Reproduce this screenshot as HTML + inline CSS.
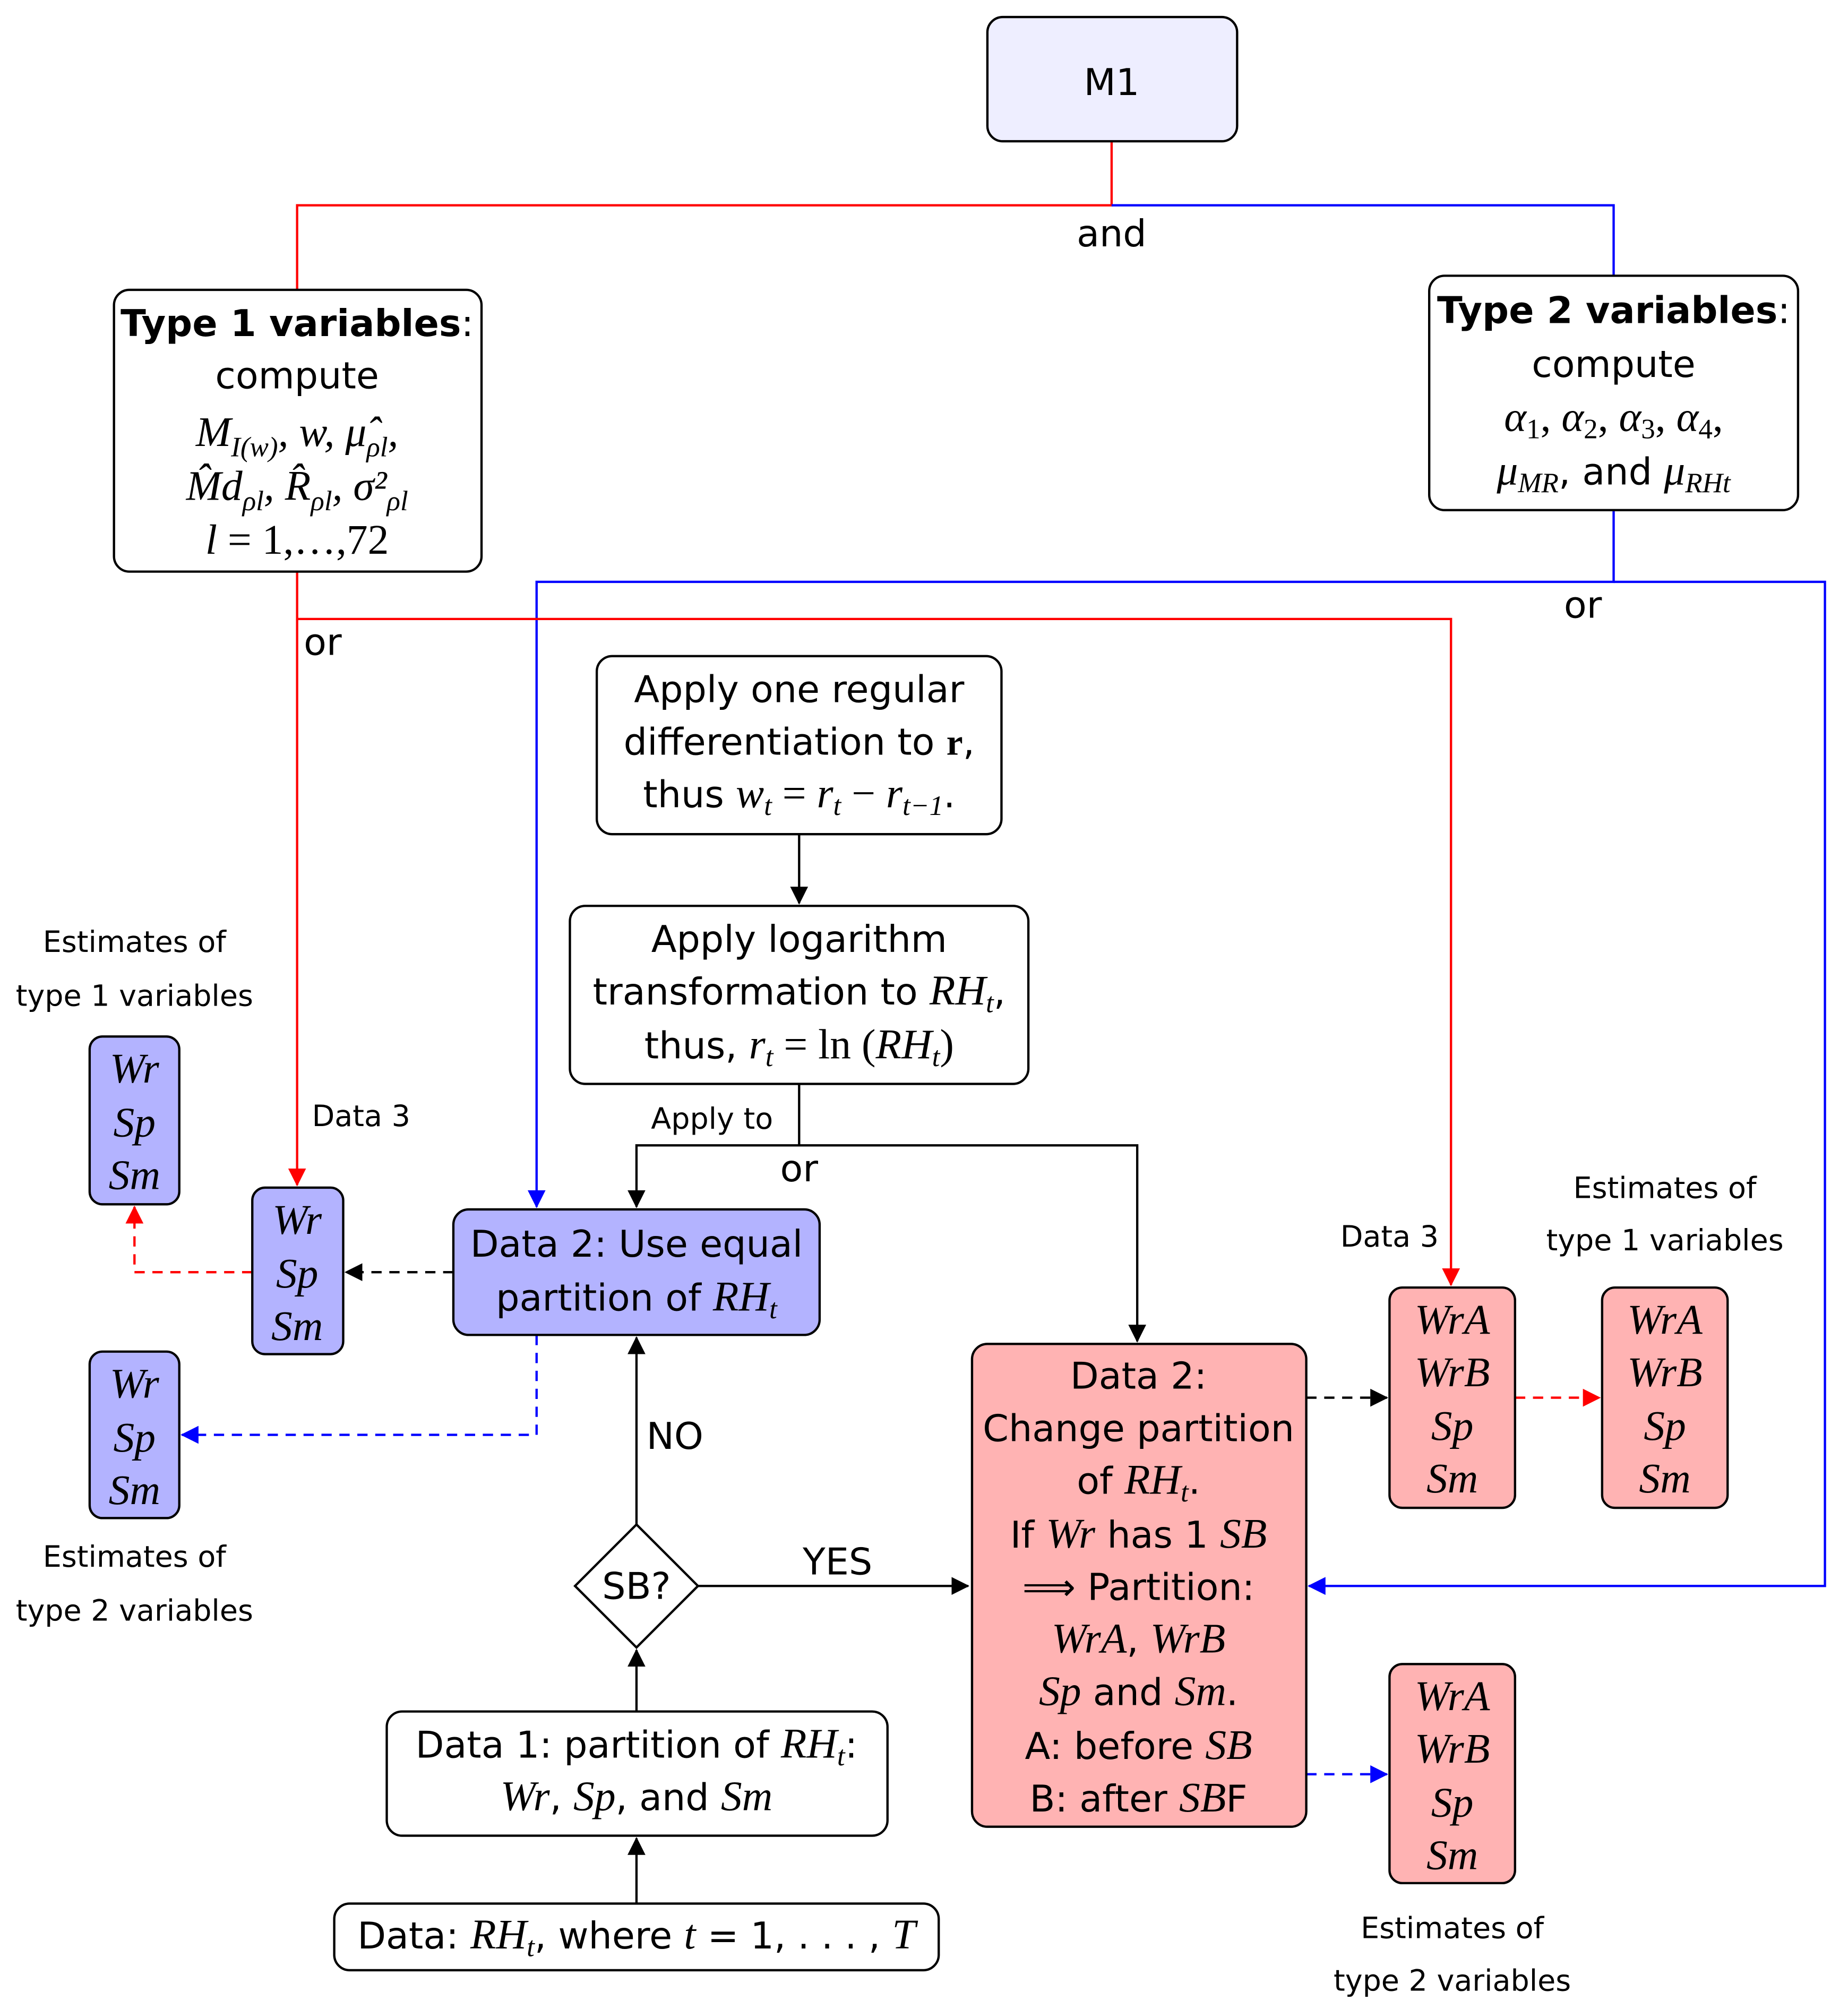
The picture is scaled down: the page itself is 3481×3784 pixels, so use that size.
<!DOCTYPE html>
<html><head><meta charset="utf-8"><style>
html,body{margin:0;padding:0;background:#fff;}
svg{display:block;}
text{font-family:"DejaVu Sans","Liberation Sans",sans-serif;font-size:29px;fill:#000;text-anchor:middle;}
.m{font-family:"Liberation Serif",serif;font-style:italic;font-size:33px;}
.s{font-size:23px;}
.sub{font-size:22px;}
</style></head><body>
<svg width="3481" height="3784" viewBox="0 0 1443 1568" xmlns="http://www.w3.org/2000/svg">
<defs>
<marker id="ak" markerWidth="14" markerHeight="14" refX="13" refY="7" orient="auto" markerUnits="userSpaceOnUse" viewBox="0 0 14 14"><path d="M0,0 L14,7 L0,14 z" fill="#000"/></marker>
<marker id="ar" markerWidth="14" markerHeight="14" refX="13" refY="7" orient="auto" markerUnits="userSpaceOnUse" viewBox="0 0 14 14"><path d="M0,0 L14,7 L0,14 z" fill="#f00"/></marker>
<marker id="ab" markerWidth="14" markerHeight="14" refX="13" refY="7" orient="auto" markerUnits="userSpaceOnUse" viewBox="0 0 14 14"><path d="M0,0 L14,7 L0,14 z" fill="#00f"/></marker>
</defs>
<g fill="none" stroke-width="1.8">
<path d="M868,110 V160 H232 V226" stroke="#f00"/>
<path d="M868,160 H1260 V215" stroke="#00f"/>
<path d="M1260,398 V454 H419 V942" stroke="#00f" marker-end="url(#ab)"/>
<path d="M1260,454 H1425 V1238 H1022" stroke="#00f" marker-end="url(#ab)"/>
<path d="M232,446 V483 H1133 V1003" stroke="#f00" marker-end="url(#ar)"/>
<path d="M232,483 V925" stroke="#f00" marker-end="url(#ar)"/>
<path d="M624,651 V705" stroke="#000" marker-end="url(#ak)"/>
<path d="M624,846 V894 H497 V942" stroke="#000" marker-end="url(#ak)"/>
<path d="M624,894 H888 V1047" stroke="#000" marker-end="url(#ak)"/>
<path d="M354,993 H270" stroke="#000" stroke-dasharray="8,6" marker-end="url(#ak)"/>
<path d="M197,993 H105 V942" stroke="#f00" stroke-dasharray="8,6" marker-end="url(#ar)"/>
<path d="M419,1042 V1120 H142" stroke="#00f" stroke-dasharray="8,6" marker-end="url(#ab)"/>
<path d="M497,1190 V1044" stroke="#000" marker-end="url(#ak)"/>
<path d="M545,1238 H756" stroke="#000" marker-end="url(#ak)"/>
<path d="M497,1336 V1288" stroke="#000" marker-end="url(#ak)"/>
<path d="M497,1486 V1435" stroke="#000" marker-end="url(#ak)"/>
<path d="M1020,1091 H1083" stroke="#000" stroke-dasharray="8,6" marker-end="url(#ak)"/>
<path d="M1183,1091 H1249" stroke="#f00" stroke-dasharray="8,6" marker-end="url(#ar)"/>
<path d="M1020,1385 H1083" stroke="#00f" stroke-dasharray="8,6" marker-end="url(#ab)"/>
</g>
<g stroke="#000" stroke-width="1.8">
<rect x="771" y="13" width="195" height="97" rx="12" fill="#eeeeff"/>
<rect x="89" y="226" width="287" height="220" rx="12" fill="#fff"/>
<rect x="1116" y="215" width="288" height="183" rx="12" fill="#fff"/>
<rect x="466" y="512" width="316" height="139" rx="12" fill="#fff"/>
<rect x="445" y="707" width="358" height="139" rx="12" fill="#fff"/>
<rect x="354" y="944" width="286" height="98" rx="12" fill="#b3b3ff"/>
<rect x="197" y="927" width="71" height="130" rx="10" fill="#b3b3ff"/>
<rect x="70" y="809" width="70" height="131" rx="10" fill="#b3b3ff"/>
<rect x="70" y="1055" width="70" height="130" rx="10" fill="#b3b3ff"/>
<path d="M497,1190 L545,1238 L497,1286 L449,1238 z" fill="#fff"/>
<rect x="302" y="1336" width="391" height="97" rx="12" fill="#fff"/>
<rect x="261" y="1486" width="472" height="52" rx="12" fill="#fff"/>
<rect x="759" y="1049" width="261" height="377" rx="12" fill="#ffb3b3"/>
<rect x="1085" y="1005" width="98" height="172" rx="10" fill="#ffb3b3"/>
<rect x="1251" y="1005" width="98" height="172" rx="10" fill="#ffb3b3"/>
<rect x="1085" y="1299" width="98" height="171" rx="10" fill="#ffb3b3"/>
</g>
<text x="868" y="74">M1</text>
<text x="868" y="192">and</text>
<text x="232" y="262"><tspan font-weight="bold">Type 1 variables</tspan>:</text>
<text x="232" y="303">compute</text>
<text x="232" y="348" class="m" font-size="26">M<tspan class="sub" dy="8">I(w)</tspan><tspan dy="-8">, w, μ̂</tspan><tspan class="sub" dy="8">ρl</tspan><tspan dy="-8">,</tspan></text>
<text x="232" y="390" class="m" font-size="26">M̂d<tspan class="sub" dy="8">ρl</tspan><tspan dy="-8">, R̂</tspan><tspan class="sub" dy="8">ρl</tspan><tspan dy="-8">, σ²</tspan><tspan class="sub" dy="8">ρl</tspan></text>
<text x="232" y="432" class="m" font-size="27">l <tspan font-style="normal">= 1,…,72</tspan></text>
<text x="1260" y="252"><tspan font-weight="bold">Type 2 variables</tspan>:</text>
<text x="1260" y="294">compute</text>
<text x="1260" y="336" class="m" font-size="28">α<tspan font-style="normal" class="sub" dy="6">1</tspan><tspan dy="-6" font-style="normal">, </tspan>α<tspan font-style="normal" class="sub" dy="6">2</tspan><tspan dy="-6" font-style="normal">, </tspan>α<tspan font-style="normal" class="sub" dy="6">3</tspan><tspan dy="-6" font-style="normal">, </tspan>α<tspan font-style="normal" class="sub" dy="6">4</tspan><tspan dy="-6" font-style="normal">,</tspan></text>
<text x="1260" y="378"><tspan class="m">μ</tspan><tspan class="m sub" dy="6">MR</tspan><tspan dy="-6">, and </tspan><tspan class="m">μ</tspan><tspan class="m sub" dy="6">RHt</tspan></text>
<text x="1236" y="482">or</text>
<text x="252" y="511">or</text>
<text x="624" y="548">Apply one regular</text>
<text x="624" y="589">differentiation to <tspan font-family="Liberation Serif" font-weight="bold">r</tspan>,</text>
<text x="624" y="630">thus <tspan class="m">w<tspan class="sub" dy="6">t</tspan><tspan dy="-6" font-style="normal"> = </tspan>r<tspan class="sub" dy="6">t</tspan><tspan dy="-6" font-style="normal"> − </tspan>r<tspan class="sub" dy="6">t−1</tspan></tspan><tspan dy="-6">.</tspan></text>
<text x="624" y="743">Apply logarithm</text>
<text x="624" y="784">transformation to <tspan class="m">RH<tspan class="sub" dy="6">t</tspan></tspan><tspan dy="-6">,</tspan></text>
<text x="624" y="826">thus, <tspan class="m">r<tspan class="sub" dy="6">t</tspan><tspan dy="-6" font-style="normal"> = ln (</tspan>RH<tspan class="sub" dy="6">t</tspan><tspan dy="-6" font-style="normal">)</tspan></tspan></text>
<text x="556" y="881" class="s">Apply to</text>
<text x="624" y="922">or</text>
<text x="282" y="879" class="s">Data 3</text>
<text x="1085" y="973" class="s">Data 3</text>
<text x="497" y="981">Data 2: Use equal</text>
<text x="497" y="1023">partition of <tspan class="m">RH<tspan class="sub" dy="6">t</tspan></tspan></text>
<g class="m">
<text x="232" y="963" class="m">Wr</text><text x="232" y="1005" class="m">Sp</text><text x="232" y="1046" class="m">Sm</text>
<text x="105" y="845" class="m">Wr</text><text x="105" y="887" class="m">Sp</text><text x="105" y="928" class="m">Sm</text>
<text x="105" y="1091" class="m">Wr</text><text x="105" y="1133" class="m">Sp</text><text x="105" y="1174" class="m">Sm</text>
<text x="1134" y="1041" class="m">WrA</text><text x="1134" y="1082" class="m">WrB</text><text x="1134" y="1124" class="m">Sp</text><text x="1134" y="1165" class="m">Sm</text>
<text x="1300" y="1041" class="m">WrA</text><text x="1300" y="1082" class="m">WrB</text><text x="1300" y="1124" class="m">Sp</text><text x="1300" y="1165" class="m">Sm</text>
<text x="1134" y="1335" class="m">WrA</text><text x="1134" y="1376" class="m">WrB</text><text x="1134" y="1418" class="m">Sp</text><text x="1134" y="1459" class="m">Sm</text>
</g>
<text x="105" y="743" class="s">Estimates of</text><text x="105" y="785" class="s">type 1 variables</text>
<text x="105" y="1223" class="s">Estimates of</text><text x="105" y="1265" class="s">type 2 variables</text>
<text x="1300" y="935" class="s">Estimates of</text><text x="1300" y="976" class="s">type 1 variables</text>
<text x="1134" y="1513" class="s">Estimates of</text><text x="1134" y="1554" class="s">type 2 variables</text>
<text x="527" y="1131">NO</text>
<text x="654" y="1229">YES</text>
<text x="497" y="1248">SB?</text>
<text x="497" y="1372">Data 1: partition of <tspan class="m">RH<tspan class="sub" dy="6">t</tspan></tspan><tspan dy="-6">:</tspan></text>
<text x="497" y="1413"><tspan class="m">Wr</tspan>, <tspan class="m">Sp</tspan>, and <tspan class="m">Sm</tspan></text>
<text x="497" y="1521">Data: <tspan class="m">RH<tspan class="sub" dy="6">t</tspan></tspan><tspan dy="-6">, where </tspan><tspan class="m">t</tspan> = 1, . . . , <tspan class="m">T</tspan></text>
<text x="889" y="1084">Data 2:</text>
<text x="889" y="1125">Change partition</text>
<text x="889" y="1166">of <tspan class="m">RH<tspan class="sub" dy="6">t</tspan></tspan><tspan dy="-6">.</tspan></text>
<text x="889" y="1208">If <tspan class="m">Wr</tspan> has 1 <tspan class="m">SB</tspan></text>
<text x="889" y="1249">⟹ Partition:</text>
<text x="889" y="1290"><tspan class="m">WrA</tspan>, <tspan class="m">WrB</tspan></text>
<text x="889" y="1331"><tspan class="m">Sp</tspan> and <tspan class="m">Sm</tspan>.</text>
<text x="889" y="1373">A: before <tspan class="m">SB</tspan></text>
<text x="889" y="1414">B: after <tspan class="m">SB</tspan>F</text>
</svg>
</body></html>
